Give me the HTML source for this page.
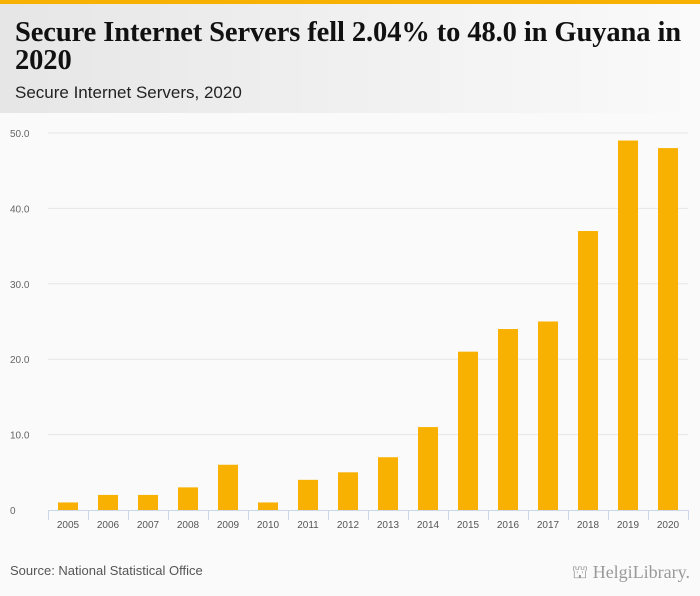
<!DOCTYPE html>
<html><head><meta charset="utf-8"><style>
body{margin:0;width:700px;height:596px;background:#fafafa;font-family:"Liberation Sans",sans-serif;position:relative;overflow:hidden}
#topbar{position:absolute;left:0;top:0;width:700px;height:4px;background:#f8b100}
#header{position:absolute;left:0;top:4px;width:700px;height:109px;background:linear-gradient(90deg,#e6e6e6,#fafafa)}
#title{position:absolute;left:15px;top:19px;width:682px;font:bold 28.5px/28px "Liberation Serif",serif;color:#111;margin:0;letter-spacing:-0.1px}
#subtitle{position:absolute;left:15px;top:83px;font:17px "Liberation Sans",sans-serif;color:#222}
#source{position:absolute;left:10px;top:563px;font:13px "Liberation Sans",sans-serif;color:#555}
#logo{position:absolute;right:10px;top:562px;font:18px "Liberation Serif",serif;color:#999}
</style></head><body>
<div id="topbar"></div>
<div id="header"></div>
<h1 id="title">Secure Internet Servers fell 2.04% to 48.0 in Guyana in 2020</h1>
<div id="subtitle">Secure Internet Servers, 2020</div>
<svg id="chart" width="700" height="596" style="position:absolute;left:0;top:0"></svg>
<div id="source">Source: National Statistical Office</div>
<div id="logo">⛫ HelgiLibrary.</div>
<script>
const categories=["2005","2006","2007","2008","2009","2010","2011","2012","2013","2014","2015","2016","2017","2018","2019","2020"];
const values=[1,2,2,3,6,1,4,5,7,11,21,24,25,37,49,48];
const yTicks=[0,10,20,30,40,50];
const yTickLabels=["0","10.0","20.0","30.0","40.0","50.0"];
const svg=document.getElementById('chart');const NS="http://www.w3.org/2000/svg";
const x0=48,x1=688,y0=510,y1=133,yMax=50;
const band=(x1-x0)/categories.length;
const xS=i=>x0+band*i;const yS=v=>y0-(y0-y1)*v/yMax;
function mk(t,a){const e=document.createElementNS(NS,t);for(const k in a)e.setAttribute(k,a[k]);svg.appendChild(e);return e;}
yTicks.forEach((t,i)=>{
 if(t>0){const g=mk('line',{x1:x0,x2:x1,y1:yS(t),y2:yS(t),stroke:'#e6e6e6'});
 
 }
 const l=mk('text',{x:10,y:yS(t)+4,'font-size':10,fill:'#666','font-family':'Liberation Sans'});l.textContent=yTickLabels[i];
 
 
});
const ax=mk('line',{x1:x0,x2:x1,y1:y0+0.5,y2:y0+0.5,stroke:'#ccd6eb'});


categories.forEach((c,i)=>{
 const tk=mk('line',{x1:xS(i)+0.5,x2:xS(i)+0.5,y1:y0,y2:y0+10,stroke:'#ccd6eb'});
 
 
 const b=mk('rect',{x:xS(i)+band/2-10,y:yS(values[i]),width:20,height:y0-yS(values[i]),fill:'#f8b100'});
 
 
 const l=mk('text',{x:xS(i)+band/2,y:y0+18,'font-size':10,fill:'#555','text-anchor':'middle','font-family':'Liberation Sans'});l.textContent=c;
 
 
});
const tk=mk('line',{x1:x1+0.5,x2:x1+0.5,y1:y0,y2:y0+10,stroke:'#ccd6eb'});


</script>
</body></html>
